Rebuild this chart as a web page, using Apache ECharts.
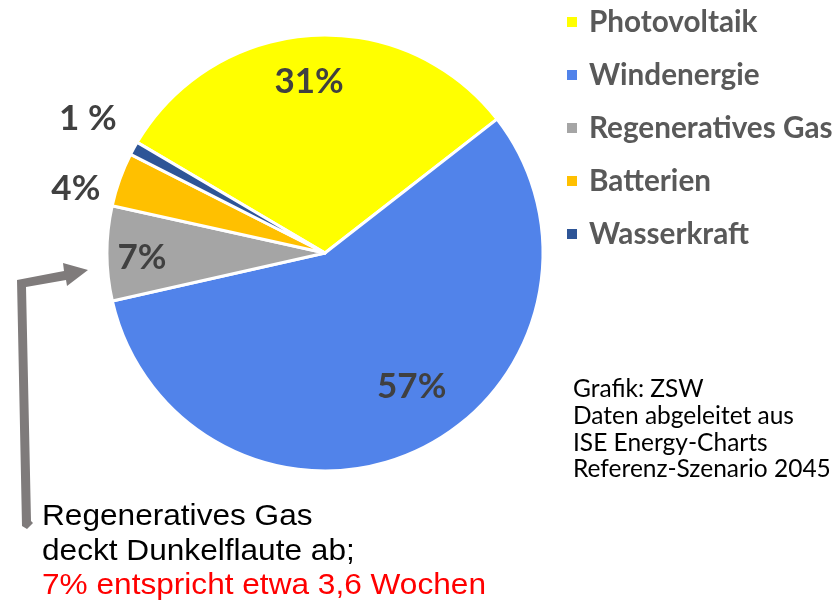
<!DOCTYPE html>
<html>
<head>
<meta charset="utf-8">
<script src="https://cdn.jsdelivr.net/npm/echarts@6/dist/echarts.min.js"></script>
<style>
  html, body { margin: 0; padding: 0; background: #fff; }
  #chart { width: 838px; height: 610px; }
</style>
</head>
<body>
<div id="chart"></div>
<script>
let categories = ['Photovoltaik', 'Windenergie', 'Regeneratives Gas', 'Batterien', 'Wasserkraft'];
let shares = [31, 57, 7, 4, 1];
let shareLabels = ['31%', '57%', '7%', '4%', '1 %'];
let colors = ['#ffff00', '#5183ea', '#a5a5a5', '#ffc000', '#2e5597'];
let sourceLines = ['Grafik: ZSW', 'Daten abgeleitet aus', 'ISE Energy-Charts', 'Referenz-Szenario 2045'];

// where each percent label sits: [distance from centre / radius, angle shift in deg]
let labelPlace = [[0.79, -1.6], [0.73, -7.7], [0.84, -1.5], [1.18, -5.3], [1.25, 0.8]];

const cx = 325, cy = 253, radius = 218;
const startFromTop = -59.5; // first slice starts left of 12 o'clock

function labelPoint(i) {
  let total = shares.reduce((a, b) => a + b, 0);
  let before = shares.slice(0, i).reduce((a, b) => a + b, 0);
  let deg = startFromTop + (before + shares[i] / 2) / total * 360 + labelPlace[i][1];
  let rad = deg * Math.PI / 180;
  let d = labelPlace[i][0] * radius;
  return [cx + Math.sin(rad) * d, cy - Math.cos(rad) * d];
}

let chart = echarts.init(document.getElementById('chart'));

chart.setOption({
  animation: false,
  legend: {
    orient: 'vertical',
    left: 565,
    top: 7,
    padding: 0,
    icon: 'rect',
    itemWidth: 12,
    itemHeight: 12,
    itemGap: 23,
    selectedMode: false,
    data: categories,
    textStyle: {
      fontFamily: 'Lato',
      fontWeight: 'bold',
      fontSize: 29.7,
      lineHeight: 30,
      color: '#595959',
      padding: [0, 0, 0, 6]
    }
  },
  series: [{
    type: 'pie',
    center: [cx, cy],
    radius: radius,
    startAngle: 90 - startFromTop,
    clockwise: true,
    silent: true,
    itemStyle: { borderColor: '#fff', borderWidth: 3 },
    label: {
      show: true,
      position: 'inside',
      formatter: p => shareLabels[p.dataIndex],
      color: '#404040',
      fontFamily: 'Lato',
      fontWeight: 'bold',
      fontSize: 35
    },
    labelLine: { show: false },
    labelLayout: function (params) {
      let pt = labelPoint(params.dataIndex);
      return { x: pt[0], y: pt[1], align: 'center', verticalAlign: 'middle' };
    },
    data: categories.map((c, i) => ({ name: c, value: shares[i], itemStyle: { color: colors[i] } }))
  }],
  graphic: [
    {
      type: 'text',
      x: 573,
      y: 376,
      style: {
        text: sourceLines.join('\n'),
        fontFamily: 'Lato',
        fontSize: 24.5,
        lineHeight: 26.7,
        fill: '#000'
      }
    },
    {
      type: 'polygon',
      shape: {
        points: [[22, 526], [17, 280], [64, 271], [63, 263], [88, 270], [67, 286], [66, 280],
                 [26, 287], [31, 521], [33, 523], [27, 529]]
      },
      style: { fill: '#7f7b7b' }
    },
    {
      type: 'text',
      x: 42,
      y: 500,
      scaleX: 1.09,
      style: {
        text: '{k|Regeneratives Gas}\n{k|deckt Dunkelflaute ab;}\n{r|7% entspricht etwa 3,6 Wochen}',
        fontFamily: 'Liberation Sans',
        fontSize: 29,
        lineHeight: 34.5,
        rich: {
          k: { fill: '#000', fontFamily: 'Liberation Sans', fontSize: 29, lineHeight: 34.5 },
          r: { fill: '#ff0000', fontFamily: 'Liberation Sans', fontSize: 29, lineHeight: 34.5 }
        }
      }
    }
  ]
});
</script>
</body>
</html>
